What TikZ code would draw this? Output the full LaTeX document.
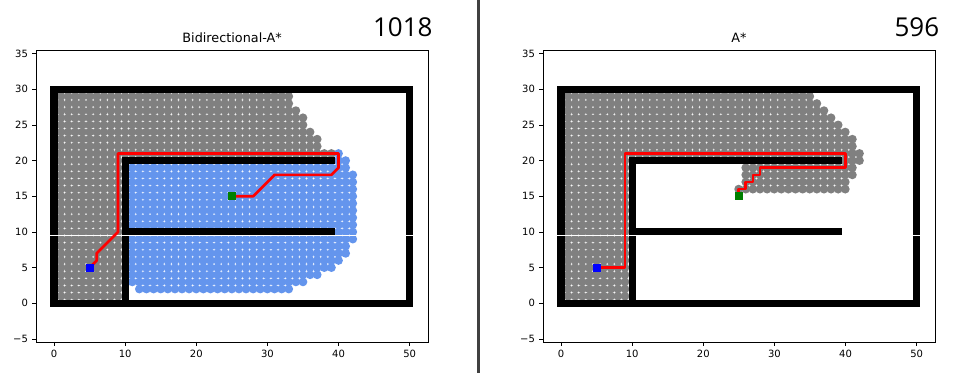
\documentclass[tikz,border=0pt]{standalone}
\usepackage{fontspec}
\setmainfont{DejaVu Sans}
\newfontfamily\countfont{Open Sans}
\usetikzlibrary{positioning}

\definecolor{visitgray}{HTML}{808080}
\definecolor{visitblue}{HTML}{6495ED}
\definecolor{goalgreen}{HTML}{008000}

\tikzset{
    fwd/.style={
      fill=visitgray,
           },
}
\tikzset{
    bwd/.style={
      fill=visitblue,
           },
}
\tikzset{
    wall/.style={
      fill=black,
           },
}
\tikzset{
    route/.style={
      draw=red, line width=2pt,
           line join=round,
           line cap=rect,
           },
}
\tikzset{
    marker/.style={
      rectangle,
           inner sep=0pt,
           minimum size=6pt,
           },
}
\tikzset{
    frame/.style={
      draw=black, line width=0.6pt,
           },
}
\tikzset{
    ticklabel/.style={
      inner sep=0pt,
           font=\fontsize{7.5}{9}\selectfont,
           },
}

\begin{document}
\begin{tikzpicture}[x=0.75pt,y=0.75pt]
\useasboundingbox (0,0) rectangle (953,373);

% bidirectional search
\begin{scope}[shift={(40.5pt,52.275pt)},x=5.335pt,y=5.351pt]
\foreach \y in {1,...,29}
  \foreach \x in {1,...,9}
    \fill[fwd] (\x,\y) circle[radius=3.3pt];
\foreach \y/\b in {21/39,22/37,23/37,24/36,25/35,26/35,27/34,28/33,29/33}
  \foreach \x in {10,...,\b}
    \fill[fwd] (\x,\y) circle[radius=3.3pt];
\foreach \y in {11,...,18}
  \foreach \x in {11,...,42}
    \fill[bwd] (\x,\y) circle[radius=3.3pt];
\foreach \y/\a/\b in {21/40/40,20/40/41,19/11/41,10/40/42,9/11/42,8/11/41,7/11/41,6/11/40,5/11/39,4/11/37,3/11/35,2/12/33}
  \foreach \x in {\a,...,\b}
    \fill[bwd] (\x,\y) circle[radius=3.3pt];
\end{scope}

% plain search
\begin{scope}[shift={(420.75pt,52.275pt)},x=5.33pt,y=5.351pt]
\foreach \y in {1,...,29}
  \foreach \x in {1,...,9}
    \fill[fwd] (\x,\y) circle[radius=3.3pt];
\foreach \y/\a/\b in {29/10/35,28/10/36,27/10/37,26/10/38,25/10/39,24/10/40,23/10/41,22/10/41,21/10/42,20/40/42,19/26/41,18/26/41,17/26/40,16/25/40}
  \foreach \x in {\a,...,\b}
    \fill[fwd] (\x,\y) circle[radius=3.3pt];
\end{scope}

\foreach \p/\ox in {l/40.5pt,r/420.75pt}{
\begin{scope}[shift={(\ox,52.275pt)},x=5.335pt,y=5.351pt]
\fill[wall] (-0.5,-0.5) rectangle (50.5,0.5);
\fill[wall] (-0.5,29.5) rectangle (50.5,30.5);
\fill[wall] (-0.5,-0.5) rectangle (0.5,30.5);
\fill[wall] (49.5,-0.5) rectangle (50.5,30.5);
\fill[wall] (9.5,0) rectangle (10.5,20.5);
\fill[wall] (9.5,19.5) rectangle (39.5,20.5);
\fill[wall] (9.5,9.5) rectangle (39.5,10.5);
\draw[white,line width=0.6pt] (-2.52,9.53) -- (52.6,9.53);

\draw[frame] (-2.52,-5.42) rectangle (52.6,35.4);
\foreach \v in {0,10,...,50}
  \draw[frame] (\v,-5.42) -- ++(0,-3.2pt) node[ticklabel,anchor=north,yshift=-2.8pt](xl\p\v){\v};
\foreach \v/\t in {-5/−5,0/0,5/5,10/10,15/15,20/20,25/25,30/30,35/35}
  \draw[frame] (-2.52,\v) -- ++(-3.2pt,0) node[ticklabel,anchor=east,xshift=-2.6pt](yl\p\v){\t};
\end{scope}
}

\begin{scope}[shift={(40.5pt,52.275pt)},x=5.335pt,y=5.351pt]
\coordinate (s1) at (5,5);
\coordinate (g1) at (25,15);
\draw[route] (s1) -- (6,6) -- (6,7) -- (9,10) -- (9,21) -- (40,21) -- (40,19) -- (39,18) -- (31,18) -- (28,15) -- (g1);
\node[marker,fill=blue] (sta1) at (s1) {};
\node[marker,fill=goalgreen] (gol1) at (g1) {};
\node[anchor=base,font=\fontsize{9.6}{11}\selectfont] (ttl1) at (25.04,36.5) {Bidirectional-A*};
\node[anchor=base east,inner sep=0pt,font=\countfont\fontsize{19.5}{22}\selectfont] (cnt1) at (53.25,37.46) {1018};
\end{scope}

\begin{scope}[shift={(420.75pt,52.275pt)},x=5.33pt,y=5.351pt]
\coordinate (s2) at (5,5);
\coordinate (g2) at (25,15);
\draw[route] (s2) -- (9,5) -- (9,21) -- (40,21) -- (40,19) -- (28,19) -- (28,18) -- (27,18) -- (27,17) -- (26,17) -- (26,16) -- (25,16) -- (g2);
\node[marker,fill=blue] (sta2) at (s2) {};
\node[marker,fill=goalgreen] (gol2) at (g2) {};
\node[anchor=base,font=\fontsize{9.6}{11}\selectfont] (ttl2) at (25.04,36.5) {A*};
\node[anchor=base east,inner sep=0pt,font=\countfont\fontsize{19.5}{22}\selectfont] (cnt2) at (53.25,37.46) {596};
\end{scope}

\draw[black!75,line width=1.7pt] (478.5,0) -- (478.5,373);

\end{tikzpicture}
\end{document}
